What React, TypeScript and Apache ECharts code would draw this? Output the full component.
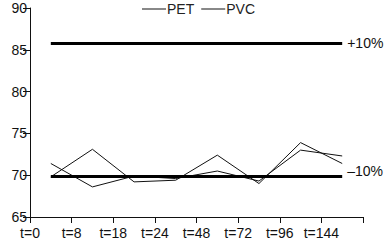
import React, { useEffect, useRef } from "react";
import * as echarts from "echarts";

const categories = ["t=0", "t=8", "t=18", "t=24", "t=48", "t=72", "t=96", "t=144"];
const petValues = [69.8, 73.1, 69.2, 69.4, 72.4, 69.0, 73.9, 71.4];
const pvcValues = [71.4, 68.6, 69.9, 69.6, 70.5, 69.3, 73.0, 72.3];
const upperLimit = 85.8;
const lowerLimit = 69.9;
const upperLabel = "+10%";
const lowerLabel = "–10%";

const FONT = "'Liberation Sans', Arial, Helvetica, sans-serif";
const INK = "#111";
const FS = 14;

export default function App() {
  const ref = useRef<HTMLDivElement>(null);
  useEffect(() => {
    if (!ref.current) return;
    const chart = echarts.init(ref.current, null, { renderer: "svg" });
    const toPoints = (vals: number[]) => vals.map((v, i) => [i + 0.5, v]);
    const first = 0.5;
    const last = categories.length - 0.5;
    chart.setOption({
      animation: false,
      grid: { left: 30, right: 25, top: 8, bottom: 26 },
      legend: {
        data: ["PET", "PVC"],
        left: 137,
        top: -3,
        icon: "rect",
        itemWidth: 24,
        itemHeight: 1,
        itemGap: 7,
        textStyle: { color: "#222", fontSize: FS, fontFamily: FONT, padding: [0, 0, 0, -4] },
      },
      xAxis: {
        type: "value",
        min: 0,
        max: categories.length,
        interval: 1,
        axisLine: { show: true, lineStyle: { color: INK, width: 1 } },
        axisTick: { show: true, length: 6, lineStyle: { color: INK } },
        splitLine: { show: false },
        axisLabel: {
          color: INK,
          fontSize: FS,
          fontFamily: FONT,
          margin: 9,
          formatter: (v: number) => categories[Math.round(v)] ?? "",
        },
      },
      yAxis: {
        type: "value",
        min: 65,
        max: 90,
        interval: 5,
        axisLine: { show: true, lineStyle: { color: INK, width: 1 } },
        axisTick: { show: true, length: 7, lineStyle: { color: INK } },
        splitLine: { show: false },
        axisLabel: { color: INK, fontSize: FS, fontFamily: FONT, margin: 3 },
      },
      series: [
        {
          name: "PET",
          type: "line",
          data: toPoints(petValues),
          showSymbol: false,
          symbol: "none",
          lineStyle: { color: INK, width: 1 },
          itemStyle: { color: INK },
        },
        {
          name: "PVC",
          type: "line",
          data: toPoints(pvcValues),
          showSymbol: false,
          symbol: "none",
          lineStyle: { color: INK, width: 1 },
          itemStyle: { color: INK },
        },
        {
          name: "limits",
          type: "line",
          data: [],
          markLine: {
            silent: true,
            symbol: ["none", "none"],
            lineStyle: { color: "#000", width: 3, type: "solid" },
            data: [
              [
                { coord: [first, upperLimit] },
                {
                  coord: [last, upperLimit],
                  label: { show: true, position: "end", formatter: upperLabel, distance: 5, color: INK, fontSize: FS, fontFamily: FONT },
                },
              ],
              [
                { coord: [first, lowerLimit] },
                {
                  coord: [last, lowerLimit],
                  label: { show: true, position: "end", formatter: lowerLabel, distance: 5, offset: [0, -5], color: INK, fontSize: FS, fontFamily: FONT },
                },
              ],
            ],
          },
        },
      ],
    });
    return () => chart.dispose();
  }, []);
  return <div ref={ref} style={{ position: "absolute", left: 0, top: 0, width: 388, height: 243, background: "#fff" }} />;
}
